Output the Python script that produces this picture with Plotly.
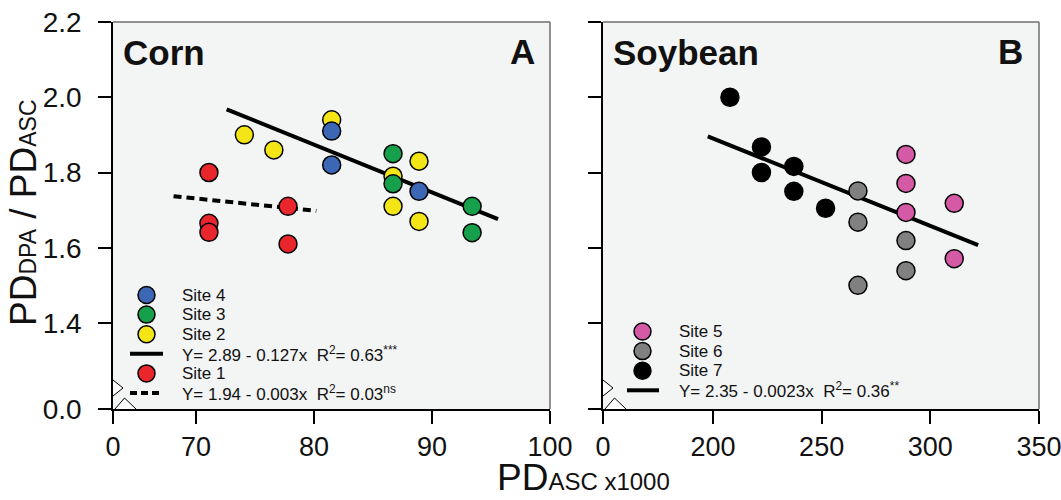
import plotly.graph_objects as go

# ---------------- data ----------------
# Corn panel (x = PD_ASC x1000, y = PD_DPA / PD_ASC)
site1_x = [71.1, 71.1, 71.1, 77.8, 77.8]
site1_y = [1.80, 1.665, 1.641, 1.71, 1.61]
site2_x = [74.1, 76.6, 81.5, 86.7, 88.9, 86.7, 88.9]
site2_y = [1.90, 1.86, 1.94, 1.79, 1.83, 1.71, 1.67]
site3_x = [86.7, 86.7, 93.4, 93.4]
site3_y = [1.85, 1.77, 1.71, 1.64]
site4_x = [81.5, 81.5, 88.9]
site4_y = [1.91, 1.82, 1.75]
corn_fit_x = [72.6, 95.6]
corn_fit_y = [1.968, 1.676]
site1_fit_x = [68.1, 80.2]
site1_fit_y = [1.737, 1.698]

# Soybean panel
site5_x = [288.8, 288.8, 288.8, 311.0, 311.0]
site5_y = [1.848, 1.771, 1.694, 1.718, 1.571]
site6_x = [266.7, 266.7, 288.8, 288.8, 266.7]
site6_y = [1.751, 1.668, 1.619, 1.539, 1.50]
site7_x = [207.8, 222.3, 222.3, 237.2, 237.2, 251.8]
site7_y = [2.00, 1.868, 1.80, 1.816, 1.75, 1.705]
soy_fit_x = [197.6, 322.0]
soy_fit_y = [1.896, 1.607]

# axis ticks (broken axes: the "0" sits at the break position)
y_break = 1.1714
y_tickvals = [y_break, 1.4, 1.6, 1.8, 2.0, 2.2]
y_ticktext = ["0.0", "1.4", "1.6", "1.8", "2.0", "2.2"]
corn_break = 62.97
corn_tickvals = [corn_break, 70, 80, 90, 100]
corn_ticktext = ["0", "70", "80", "90", "100"]
soy_break = 149.4
soy_tickvals = [soy_break, 200, 250, 300, 350]
soy_ticktext = ["0", "200", "250", "300", "350"]

corn_eq = "Y= 2.89 - 0.127x  R<sup>2</sup>= 0.63<sup>***</sup>"
site1_eq = "Y= 1.94 - 0.003x  R<sup>2</sup>= 0.03<sup>ns</sup>"
soy_eq = "Y= 2.35 - 0.0023x  R<sup>2</sup>= 0.36<sup>**</sup>"

# ---------------- style ----------------
W, H = 1061, 500
FONT = "Arial, Liberation Sans, sans-serif"
C_BLUE = "#3b67b4"
C_GREEN = "#17a04b"
C_YELLOW = "#f3e516"
C_RED = "#e8262c"
C_PINK = "#d45aa5"
C_GRAY = "#808080"
C_BLACK = "#000000"
BG = "#f3f4f4"


def px(x):
    return x / W


def py(y):
    return 1 - y / H


L_LEFT, L_RIGHT = 113, 550
R_LEFT, R_RIGHT = 603, 1039
P_TOP, P_BOT = 22, 409

fig = go.Figure()


def pts(x, y, color, xa, ya, name):
    fig.add_trace(go.Scatter(
        x=x, y=y, mode="markers", name=name, xaxis=xa, yaxis=ya,
        marker=dict(size=18, color=color, line=dict(color="#000", width=1.5)),
        showlegend=False, hoverinfo="x+y"))


def fit(x, y, xa, ya, dash, name):
    fig.add_trace(go.Scatter(
        x=x, y=y, mode="lines", name=name, xaxis=xa, yaxis=ya,
        line=dict(color="#000", width=4, dash=dash),
        showlegend=False, hoverinfo="skip"))


# corn
fit(corn_fit_x, corn_fit_y, "x", "y", "solid", "Sites 2-4 fit")
fit(site1_fit_x, site1_fit_y, "x", "y", "8px,5px", "Site 1 fit")
pts(site1_x, site1_y, C_RED, "x", "y", "Site 1")
pts(site2_x, site2_y, C_YELLOW, "x", "y", "Site 2")
pts(site3_x, site3_y, C_GREEN, "x", "y", "Site 3")
pts(site4_x, site4_y, C_BLUE, "x", "y", "Site 4")
# soybean
fit(soy_fit_x, soy_fit_y, "x2", "y2", "solid", "Soybean fit")
pts(site5_x, site5_y, C_PINK, "x2", "y2", "Site 5")
pts(site6_x, site6_y, C_GRAY, "x2", "y2", "Site 6")
pts(site7_x, site7_y, C_BLACK, "x2", "y2", "Site 7")

axis_common = dict(
    showgrid=False, zeroline=False, showline=True, linecolor="#000", linewidth=1.5,
    ticks="outside", ticklen=13, tickwidth=1.5, tickcolor="#000", automargin=False,
    ticklabeloverflow="allow",
)
xtickfont = dict(family=FONT, size=27, color="#111")
ytickfont = dict(family=FONT, size=28, color="#111")

fig.update_layout(
    width=W, height=H,
    margin=dict(l=0, r=0, t=0, b=0, autoexpand=False),
    paper_bgcolor="white", plot_bgcolor=BG,
    showlegend=False,
    xaxis=dict(domain=[px(L_LEFT), px(L_RIGHT)], range=[corn_break, 100],
               tickmode="array", tickvals=corn_tickvals, ticktext=corn_ticktext,
               tickfont=xtickfont, anchor="y", **axis_common),
    yaxis=dict(domain=[py(P_BOT), py(P_TOP)], range=[y_break, 2.2],
               tickmode="array", tickvals=y_tickvals, ticktext=y_ticktext,
               tickfont=ytickfont, ticklabelstandoff=11, anchor="x", **axis_common),
    xaxis2=dict(domain=[px(R_LEFT), px(R_RIGHT)], range=[soy_break, 350],
                tickmode="array", tickvals=soy_tickvals, ticktext=soy_ticktext,
                tickfont=xtickfont, anchor="y2", **axis_common),
    yaxis2=dict(domain=[py(P_BOT), py(P_TOP)], range=[y_break, 2.2],
                tickmode="array", tickvals=y_tickvals, ticktext=y_ticktext,
                showticklabels=False, anchor="x2", **axis_common),
)

shapes = []
# gray top / right frame
for l, r in [(L_LEFT, L_RIGHT), (R_LEFT, R_RIGHT)]:
    shapes.append(dict(type="line", xref="paper", yref="paper",
                       x0=px(l), x1=px(r), y0=py(P_TOP), y1=py(P_TOP),
                       line=dict(color="#6e6e6e", width=1.5)))
    shapes.append(dict(type="line", xref="paper", yref="paper",
                       x0=px(r), x1=px(r), y0=py(P_TOP), y1=py(P_BOT),
                       line=dict(color="#6e6e6e", width=1.5)))
    # axis break marks
    shapes.append(dict(type="path", xref="paper", yref="paper",
                       path=f"M{px(l)},{py(380)} L{px(l + 10)},{py(388)} L{px(l)},{py(396)}",
                       fillcolor="white", line=dict(color="#000", width=1)))
    shapes.append(dict(type="path", xref="paper", yref="paper",
                       path=f"M{px(l + 2)},{py(P_BOT)} L{px(l + 11.5)},{py(398)} L{px(l + 23)},{py(P_BOT)}",
                       fillcolor="white", line=dict(color="#000", width=1)))

annotations = []


def txt(x, y, s, size, bold=False, xanchor="left", yanchor="middle", angle=0):
    annotations.append(dict(
        x=px(x), y=py(y), xref="paper", yref="paper", text=(f"<b>{s}</b>" if bold else s),
        showarrow=False, xanchor=xanchor, yanchor=yanchor, textangle=angle,
        font=dict(family=FONT, size=size, color="#111")))


def leg_marker(cx, cy, color):
    r = 8.5
    shapes.append(dict(type="circle", xref="paper", yref="paper",
                       x0=px(cx - r), x1=px(cx + r), y0=py(cy + r), y1=py(cy - r),
                       fillcolor=color, line=dict(color="#000", width=1.5)))


def leg_line(x0, x1, y, dash):
    shapes.append(dict(type="line", xref="paper", yref="paper",
                       x0=px(x0), x1=px(x1), y0=py(y), y1=py(y),
                       line=dict(color="#000", width=4, dash=dash)))


# corn legend
leg_items = [("marker", C_BLUE, "Site 4"), ("marker", C_GREEN, "Site 3"),
             ("marker", C_YELLOW, "Site 2"), ("line", "solid", corn_eq),
             ("marker", C_RED, "Site 1"), ("line", "7px,4px", site1_eq)]
y0 = 295
for i, (kind, sty, label) in enumerate(leg_items):
    yy = y0 + i * 19.6
    if kind == "marker":
        leg_marker(146.5, yy, sty)
    else:
        leg_line(130, 163, yy, sty)
    txt(180, yy, label, 17)

# soybean legend
leg_items2 = [("marker", C_PINK, "Site 5"), ("marker", C_GRAY, "Site 6"),
              ("marker", C_BLACK, "Site 7"), ("line", "solid", soy_eq)]
y0 = 331.5
for i, (kind, sty, label) in enumerate(leg_items2):
    yy = y0 + i * 19.6
    if kind == "marker":
        leg_marker(642.5, yy, sty)
    else:
        leg_line(627, 659, yy, sty)
    txt(677, yy, label, 17)

# panel titles
txt(121, 53, "Corn", 35, bold=True)
txt(537, 52, "A", 35, bold=True, xanchor="right")
txt(611, 53, "Soybean", 35, bold=True)
txt(1025, 52, "B", 35, bold=True, xanchor="right")


def small(s, size):
    return f'<span style="font-size:{size}px">{s}</span>'


# axis titles
txt(24, 213, "PD" + small("DPA", 23) + " / PD" + small("ASC", 23), 37,
    xanchor="center", angle=-90)
txt(583, 500, "PD" + small("ASC x1000", 24), 37, xanchor="center", yanchor="bottom")

fig.update_layout(shapes=shapes, annotations=annotations)

fig.write_html("out.html")
